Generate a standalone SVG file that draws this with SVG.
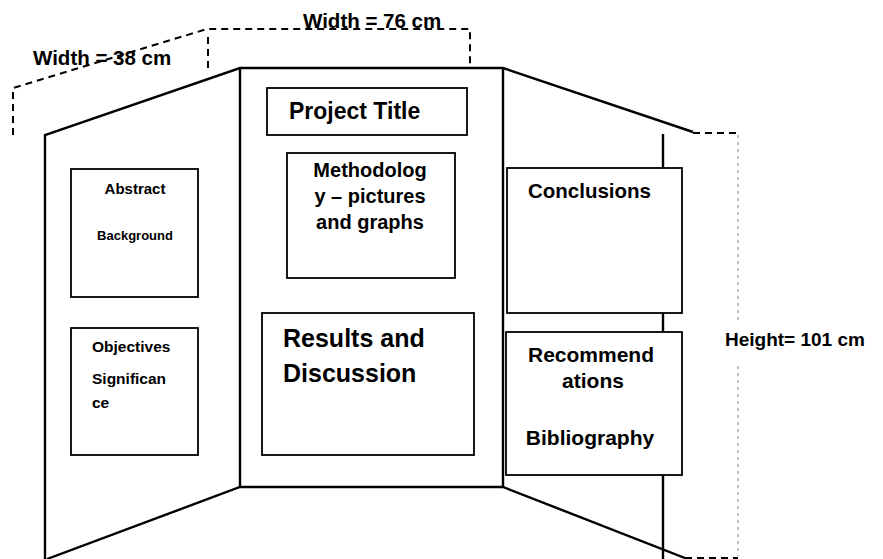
<svg xmlns="http://www.w3.org/2000/svg" width="883" height="559" viewBox="0 0 883 559">
<style>
  .panel{fill:none;stroke:#000;stroke-width:2.4;stroke-linejoin:miter}
  .box{fill:#fff;stroke:#000;stroke-width:1.8}
  .dash{fill:none;stroke:#000;stroke-width:2;stroke-dasharray:7 5}
  .dot{fill:none;stroke:#999;stroke-width:1.2;stroke-dasharray:3 4}
  text{font-family:"Liberation Sans",Arial,sans-serif;font-weight:bold;fill:#000}
  .c{text-anchor:middle}
</style>
<rect width="883" height="559" fill="#fff"/>
<g id="board">
  <polyline class="panel" points="45,559 45,135 240,68 503,68 693,132"/>
  <line class="panel" x1="240" y1="68" x2="240" y2="487"/>
  <line class="panel" x1="503" y1="68" x2="503" y2="487"/>
  <polyline class="panel" points="47,559 240,487 503,487 685,558"/>
  <line class="panel" x1="663" y1="134" x2="663" y2="559"/>
</g>
<g id="dimensions">
  <polyline class="dash" points="13,135 13,88 207,29 470,29 470,68"/>
  <line class="dash" x1="208" y1="37" x2="208" y2="68"/>
  <line class="dash" x1="693" y1="133" x2="738" y2="133"/>
  <line class="dash" x1="685" y1="558" x2="738" y2="558"/>
  <line class="dot" x1="738" y1="135" x2="738" y2="322"/>
  <line class="dot" x1="738" y1="366" x2="738" y2="556"/>
  <text x="33" y="65" font-size="20.5">Width = 38 cm</text>
  <text x="303" y="28" font-size="20.5">Width = 76 cm</text>
  <text x="725" y="346" font-size="19">Height= 101 cm</text>
</g>
<g id="abstract">
  <rect class="box" x="71" y="169" width="127" height="128"/>
  <text class="c" x="135" y="194" font-size="15">Abstract</text>
  <text class="c" x="135" y="240" font-size="13">Background</text>
</g>
<g id="objectives">
  <rect class="box" x="71" y="328" width="127" height="127"/>
  <text x="92" y="352" font-size="15.5">Objectives</text>
  <text x="92" y="384" font-size="15.5">Significan</text>
  <text x="92" y="408" font-size="15.5">ce</text>
</g>
<g id="title">
  <rect class="box" x="267" y="88" width="200" height="47"/>
  <text x="289" y="119" font-size="23">Project Title</text>
</g>
<g id="methodology">
  <rect class="box" x="287" y="153" width="168" height="125"/>
  <text class="c" x="370" y="177" font-size="20">Methodolog</text>
  <text class="c" x="370" y="203" font-size="20">y – pictures</text>
  <text class="c" x="370" y="229" font-size="20">and graphs</text>
</g>
<g id="results">
  <rect class="box" x="262" y="313" width="212" height="142"/>
  <text x="283" y="347" font-size="25">Results and</text>
  <text x="283" y="382" font-size="25">Discussion</text>
</g>
<g id="conclusions">
  <rect class="box" x="507" y="168" width="175" height="145"/>
  <text x="528" y="198" font-size="20.5">Conclusions</text>
</g>
<g id="recommendations">
  <rect class="box" x="506" y="332" width="176" height="143"/>
  <text class="c" x="591" y="362" font-size="21">Recommend</text>
  <text class="c" x="593" y="388" font-size="21">ations</text>
  <text class="c" x="590" y="445" font-size="21">Bibliography</text>
</g>
</svg>
